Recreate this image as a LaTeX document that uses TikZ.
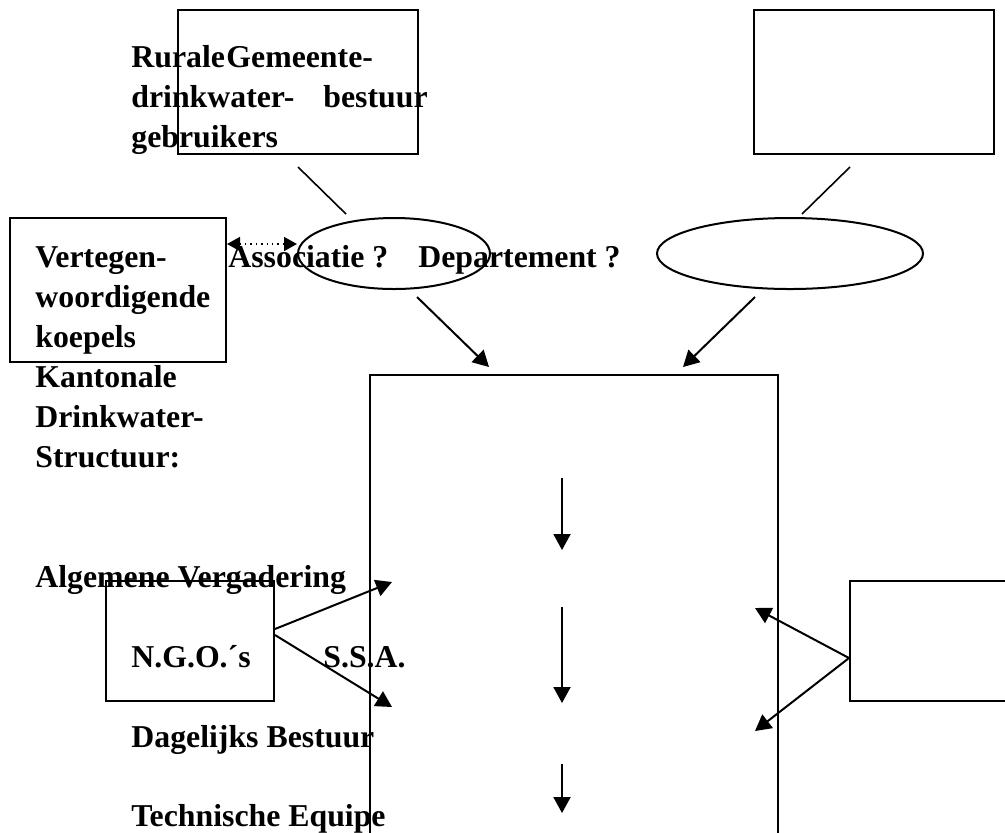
\documentclass[tikz,border=0pt]{standalone}
\usepackage{fontspec}
\setmainfont{Liberation Serif}
\usetikzlibrary{shapes.geometric,arrows.meta}

\begin{document}
\begin{tikzpicture}[x=0.5pt,y=-0.5pt,
    box/.style={draw,line width=1pt,inner sep=0pt},
    oval/.style={draw,ellipse,line width=1pt,inner sep=0pt,minimum height=35.5pt},
    lbl/.style={anchor=base west,inner sep=0pt,font=\fontsize{15.9}{20}\selectfont\bfseries},
    link/.style={line width=0.8pt},
    arr/.style={line width=1pt,-{Triangle[length=8pt,width=8.5pt]}},
    dotarr/.style={line width=0.7pt,dotted,{Triangle[length=6.5pt,width=7pt]}-{Triangle[length=6.5pt,width=7pt]}}
]
\useasboundingbox (0,0) rectangle (1005,832);
\clip (0,0) rectangle (1005,832);

\node[box,minimum width=120pt,minimum height=72pt] (boxRural) at (298,82) {};
\node[box,minimum width=120pt,minimum height=72pt] (boxTop) at (874,82) {};
\node[oval,minimum width=96pt] (ellAssoc) at (394,253.5) {};
\node[oval,minimum width=133pt] (ellDep) at (790,253.5) {};
\node[box,minimum width=108pt,minimum height=72pt] (boxKoepels) at (118,290) {};
\node[box,minimum width=204pt,minimum height=262.5pt] (boxMain) at (574,637.5) {};
\node[box,minimum width=84pt,minimum height=60pt] (boxNGO) at (190,641) {};
\node[box,minimum width=125pt,minimum height=60pt] (boxRight) at (975,641) {};

\node[lbl] (tRurale) at (131,67) {Rurale};
\node[lbl] (tGemeente) at (226,67) {Gemeente-};
\node[lbl] (tDrink) at (131,107) {drinkwater-};
\node[lbl] (tBestuur) at (323,107) {bestuur};
\node[lbl] (tGebr) at (131,147) {gebruikers};
\node[lbl] (tVert) at (35,267) {Vertegen-};
\node[lbl] (tAssoc) at (228,267) {Associatie ?};
\node[lbl] (tDep) at (418,267) {Departement ?};
\foreach \t [count=\i] in {woordigende,koepels,Kantonale,Drinkwater-,Structuur:}
  \node[lbl] (tLeft\i) at (35,267+40*\i) {\t};
\node[lbl] (tAlg) at (35,587) {Algemene Vergadering};
\node[lbl] (tNGO) at (131,667) {N.G.O.´s};
\node[lbl] (tSSA) at (323,667) {S.S.A.};
\node[lbl] (tDag) at (131,747) {Dagelijks Bestuur};
\node[lbl] (tTech) at (131,826) {Technische Equipe};

\draw[link] ([yshift=-6pt]boxRural.south) -- ([xshift=-24pt,yshift=1.5pt]ellAssoc.north);
\draw[link] ([xshift=-12pt,yshift=-6pt]boxTop.south) -- ([xshift=6pt,yshift=1.5pt]ellDep.north);
\draw[arr] ([xshift=11.5pt,yshift=-3.5pt]ellAssoc.south) -- ([xshift=-42.5pt,yshift=3.5pt]boxMain.north);
\draw[arr] ([xshift=-17.5pt,yshift=-3.5pt]ellDep.south) -- ([xshift=54.5pt,yshift=3.5pt]boxMain.north);
\draw[dotarr] ([yshift=23pt]boxKoepels.east) -- ([yshift=4.75pt]ellAssoc.west);

\draw[arr] ([yshift=6pt]boxNGO.east) -- ([xshift=11.5pt,yshift=27.75pt]boxMain.west);
\draw[arr] ([yshift=3pt]boxNGO.east) -- ([xshift=11.5pt,yshift=-34.75pt]boxMain.west);
\draw[arr] ([yshift=-8.5pt]boxRight.west) -- ([xshift=-12pt,yshift=14.75pt]boxMain.east);
\draw[arr] ([yshift=-8.5pt]boxRight.west) -- ([xshift=-12pt,yshift=-46.75pt]boxMain.east);

\foreach \a/\b [count=\i] in {478/550,607/703,764/813}{
  \coordinate (down\i) at (562,\a);
  \coordinate (downEnd\i) at (562,\b);
  \draw[arr] (down\i) -- (downEnd\i);
}
\end{tikzpicture}
\end{document}
